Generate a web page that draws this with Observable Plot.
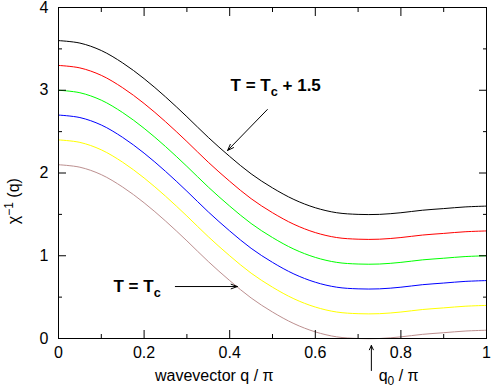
<!DOCTYPE html>
<html><head><meta charset="utf-8">
<script src="https://cdn.jsdelivr.net/npm/d3@7"></script>
<script src="https://cdn.jsdelivr.net/npm/@observablehq/plot@0.6"></script>
<style>body{margin:0;background:#fff}</style>
</head><body><div id="chart"></div>
<script>
// wavevector q/π sample positions
const q = [0,0.05,0.1,0.15,0.2,0.25,0.3,0.35,0.4,0.45,0.5,0.55,0.6,0.65,0.7,0.75,0.8,0.85,0.9,0.95,1];
// χ^-1(q) curves, top (T = Tc + 1.5) to bottom (T = Tc)
const curveBlack  = [3.60,3.57,3.48,3.33,3.14,2.92,2.68,2.43,2.20,1.99,1.82,1.68,1.58,1.52,1.50,1.50,1.52,1.55,1.57,1.59,1.60];
const curveRed    = [3.30,3.27,3.18,3.03,2.84,2.62,2.38,2.13,1.90,1.69,1.52,1.38,1.28,1.22,1.20,1.20,1.22,1.25,1.27,1.29,1.30];
const curveGreen  = [3.00,2.97,2.88,2.73,2.54,2.32,2.08,1.83,1.60,1.39,1.22,1.08,0.98,0.92,0.90,0.90,0.92,0.95,0.97,0.99,1.00];
const curveBlue   = [2.70,2.67,2.58,2.43,2.24,2.02,1.78,1.53,1.30,1.09,0.92,0.78,0.68,0.62,0.60,0.60,0.62,0.65,0.67,0.69,0.70];
const curveYellow = [2.40,2.37,2.28,2.13,1.94,1.72,1.48,1.23,1.00,0.79,0.62,0.48,0.38,0.32,0.30,0.30,0.32,0.35,0.37,0.39,0.40];
const curveBrown  = [2.10,2.07,1.98,1.83,1.64,1.42,1.18,0.93,0.70,0.49,0.32,0.18,0.08,0.02,0.00,0.00,0.02,0.05,0.07,0.09,0.10];
const seriesNames = ["Tc+1.5","Tc+1.2","Tc+0.9","Tc+0.6","Tc+0.3","Tc"];
const seriesValues = [curveBlack, curveRed, curveGreen, curveBlue, curveYellow, curveBrown];
const seriesColors = ["#000000","#ff0000","#00ff00","#0000ff","#ffff00","#bc8f8f"];

const xMajor = [0,0.2,0.4,0.6,0.8,1];
const xMinor = [0.1,0.3,0.5,0.7,0.9];
const yMajor = [0,1,2,3,4];
const yMinor = [0.5,1.5,2.5,3.5];

const labels = [
  {text: "T = T_{c} + 1.5", x: 0.402, y: 2.99},
  {text: "T = T_{c}", x: 0.1285, y: 0.556}
];
const arrows = [
  {x1: 0.488, y1: 2.767, x2: 0.395, y2: 2.272},
  {x1: 0.273, y1: 0.628, x2: 0.418, y2: 0.628}
];
const q0 = 0.731;

const rows = seriesNames.flatMap((s, i) => q.map((qq, j) => ({series: s, q: qq, v: seriesValues[i][j]})));

const font = "'Liberation Sans', Arial, Helvetica, sans-serif";
const fmt = d => String(d);

const chart = Plot.plot({
  width: 491, height: 387,
  marginLeft: 58, marginRight: 5, marginTop: 7, marginBottom: 49,
  style: {fontFamily: font, fontSize: "15px", background: "white", overflow: "visible"},
  x: {domain: [0, 1]},
  y: {domain: [0, 4]},
  color: {domain: seriesNames, range: seriesColors},
  marks: [
    Plot.line(rows, {x: "q", y: "v", z: "series", stroke: "series", strokeWidth: 1, curve: "catmull-rom"}),
    Plot.frame({stroke: "black", strokeWidth: 1}),
    Plot.axisX(xMajor, {anchor: "bottom", tickSize: -8, text: null, label: null}),
    Plot.axisX(xMinor, {anchor: "bottom", tickSize: -4, text: null, label: null}),
    Plot.axisX(xMajor, {anchor: "top", tickSize: -8, text: null, label: null}),
    Plot.axisX(xMinor, {anchor: "top", tickSize: -4, text: null, label: null}),
    Plot.axisX(xMajor, {anchor: "bottom", tickSize: 0, tickPadding: 8, label: null, fontSize: 16, tickFormat: fmt}),
    Plot.axisY(yMajor, {anchor: "left", tickSize: -8, text: null, label: null}),
    Plot.axisY(yMinor, {anchor: "left", tickSize: -4, text: null, label: null}),
    Plot.axisY(yMajor, {anchor: "right", tickSize: -8, text: null, label: null}),
    Plot.axisY(yMinor, {anchor: "right", tickSize: -4, text: null, label: null}),
    Plot.axisY(yMajor, {anchor: "left", tickSize: 0, tickPadding: 10, label: null, fontSize: 16, tickFormat: fmt}),
    Plot.text(labels, {x: "x", y: "y", text: "text", textAnchor: "start", lineAnchor: "bottom", fontWeight: "bold", fontSize: 17}),
    Plot.arrow(arrows, {x1: "x1", y1: "y1", x2: "x2", y2: "y2", stroke: "black", strokeWidth: 1, headLength: 10, headAngle: 40}),
    Plot.arrow([{x: q0}], {x1: "x", x2: "x", y1: -0.387, y2: -0.085, stroke: "black", strokeWidth: 1, headLength: 7, headAngle: 50}),
    Plot.text(["q_{0} / π"], {x: 0.748, frameAnchor: "bottom", dy: 42, text: d => d, textAnchor: "start", lineAnchor: "bottom", fontSize: 16}),
    Plot.text(["wavevector q / π"], {x: 0.364, frameAnchor: "bottom", dy: 42, text: d => d, textAnchor: "middle", lineAnchor: "bottom", fontSize: 16}),
    Plot.text(["χ^{−1} (q)"], {y: 1.66, frameAnchor: "left", dx: -45, text: d => d, rotate: -90, textAnchor: "middle", lineAnchor: "middle", fontSize: 16})
  ]
});

// render sub/superscripts as tspans
d3.select(chart).selectAll("text").each(function() {
  const s = this.textContent;
  if (!/[_^]\{/.test(s)) return;
  const el = d3.select(this);
  el.text(null);
  const re = /([_^])\{([^}]*)\}/g;
  let last = 0, m;
  const parts = [];
  while ((m = re.exec(s))) {
    parts.push({t: s.slice(last, m.index)});
    parts.push({t: m[2], sub: m[1]});
    last = re.lastIndex;
  }
  parts.push({t: s.slice(last)});
  let cur = 0;
  for (const p of parts) {
    if (!p.t) continue;
    const target = p.sub === "_" ? 4.5 : p.sub === "^" ? -6 : 0;
    const ts = el.append("tspan").attr("dy", target - cur).text(p.t);
    if (p.sub) ts.attr("font-size", "0.75em");
    cur = target;
  }
});

document.getElementById("chart").appendChild(chart);
</script>
</body></html>
